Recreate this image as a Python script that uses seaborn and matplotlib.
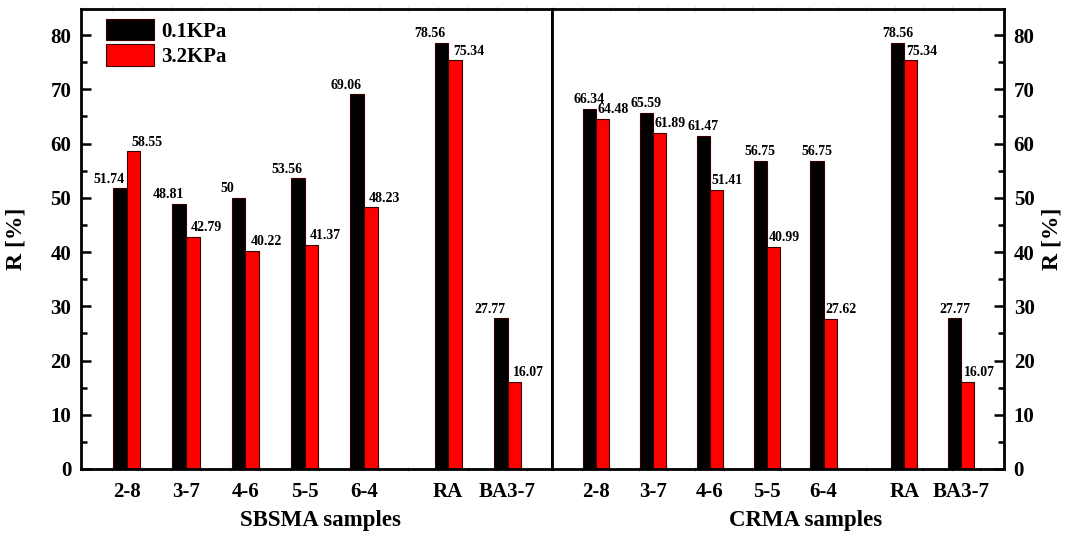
import matplotlib
matplotlib.use("Agg")
import matplotlib.pyplot as plt
import pandas as pd
import seaborn as sns
from matplotlib.ticker import MultipleLocator

# Data
samples = ["2-8", "3-7", "4-6", "5-5", "6-4", "RA", "BA3-7"]
loads = ["0.1KPa", "3.2KPa"]
sbsma_low = [51.74, 48.81, 50, 53.56, 69.06, 78.56, 27.77]
sbsma_high = [58.55, 42.79, 40.22, 41.37, 48.23, 75.34, 16.07]
crma_low = [66.34, 65.59, 61.47, 56.75, 56.75, 78.56, 27.77]
crma_high = [64.48, 61.89, 51.41, 40.99, 27.62, 75.34, 16.07]

# x slot of each sample (there is a gap before RA)
slots = [1, 2, 3, 4, 5, 6.42, 7.42]


def make_frame(low, high):
    return pd.DataFrame({
        "slot": slots * 2,
        "R": low + high,
        "load": [loads[0]] * len(low) + [loads[1]] * len(high),
    })


sns.set_style("ticks")
plt.rcParams["font.family"] = ["Liberation Serif", "DejaVu Serif"]
plt.rcParams["font.weight"] = "bold"
plt.rcParams["axes.labelweight"] = "bold"
for key in ["text.color", "axes.labelcolor", "xtick.color", "ytick.color",
            "xtick.labelcolor", "ytick.labelcolor"]:
    plt.rcParams[key] = "black"

W, H = 1072, 544
fig = plt.figure(figsize=(W / 100, H / 100), dpi=100)
ax1 = fig.add_axes([81 / W, 75 / H, 471 / W, 460 / H])
ax2 = fig.add_axes([552 / W, 75 / H, 452 / W, 460 / H])

panels = [
    (ax1, sbsma_low, sbsma_high, "SBSMA samples", 0.509, (-8, 10)),
    (ax2, crma_low, crma_high, "CRMA samples", 0.562, (0, 8)),
]

for ax, low, high, xlabel, xlab_x, offsets in panels:
    sns.barplot(data=make_frame(low, high), x="slot", y="R", hue="load",
                native_scale=True, width=0.46, palette=["black", "red"],
                saturation=1, edgecolor="#3a0000", linewidth=0.8,
                errorbar=None, legend=(ax is ax1), ax=ax)

    # value labels above the bars
    for cont, vals, dx in zip(ax.containers, [low, high], offsets):
        for bar, v in zip(cont.patches, vals):
            ax.annotate(f"{v:g}", (bar.get_x() + bar.get_width() / 2, bar.get_height()),
                        xytext=(dx, 2), textcoords="offset points",
                        ha="center", va="bottom", fontsize=10, fontweight="bold")

    ax.set_xlim(0.23, 8.17)
    ax.set_ylim(0, 84.8)
    ax.set_xticks(slots)
    ax.set_xticklabels(samples)
    ax.yaxis.set_major_locator(MultipleLocator(10))
    ax.yaxis.set_minor_locator(MultipleLocator(5))
    ax.xaxis.set_minor_locator(MultipleLocator(0.5, offset=0.75))

    ax.tick_params(axis="y", which="major", direction="in", length=7, width=1.8,
                   labelsize=15, pad=7)
    ax.tick_params(axis="y", which="minor", direction="in", length=4.5, width=1.8)
    ax.tick_params(axis="x", which="major", length=0, pad=9.5, labelsize=15)
    ax.tick_params(axis="x", which="minor", direction="inout", length=3, width=0.6,
                   color="0.65", top=True, bottom=True)

    for sp in ax.spines.values():
        sp.set_color("black")
        sp.set_linewidth(2)

    ax.set_xlabel(xlabel, fontsize=16.5)
    ax.xaxis.set_label_coords(xlab_x, -0.089)
    ax.set_ylabel("R [%]", fontsize=17)

ax1.yaxis.set_label_coords(-0.115, 0.5)
ax1.tick_params(axis="y", which="both", left=True, right=False)

ax2.yaxis.tick_right()
ax2.yaxis.set_label_position("right")
ax2.tick_params(axis="y", which="both", left=False, right=True)
ax2.yaxis.labelpad = 5

handles, labels = ax1.get_legend_handles_labels()
ax1.legend(handles, labels, loc="upper left", bbox_to_anchor=(0.053, 0.978),
           frameon=False, fontsize=15, handlelength=2.3, handleheight=1.2,
           handletextpad=0.35, labelspacing=0.12, borderpad=0, borderaxespad=0)

fig.savefig("out.png", dpi=100)
